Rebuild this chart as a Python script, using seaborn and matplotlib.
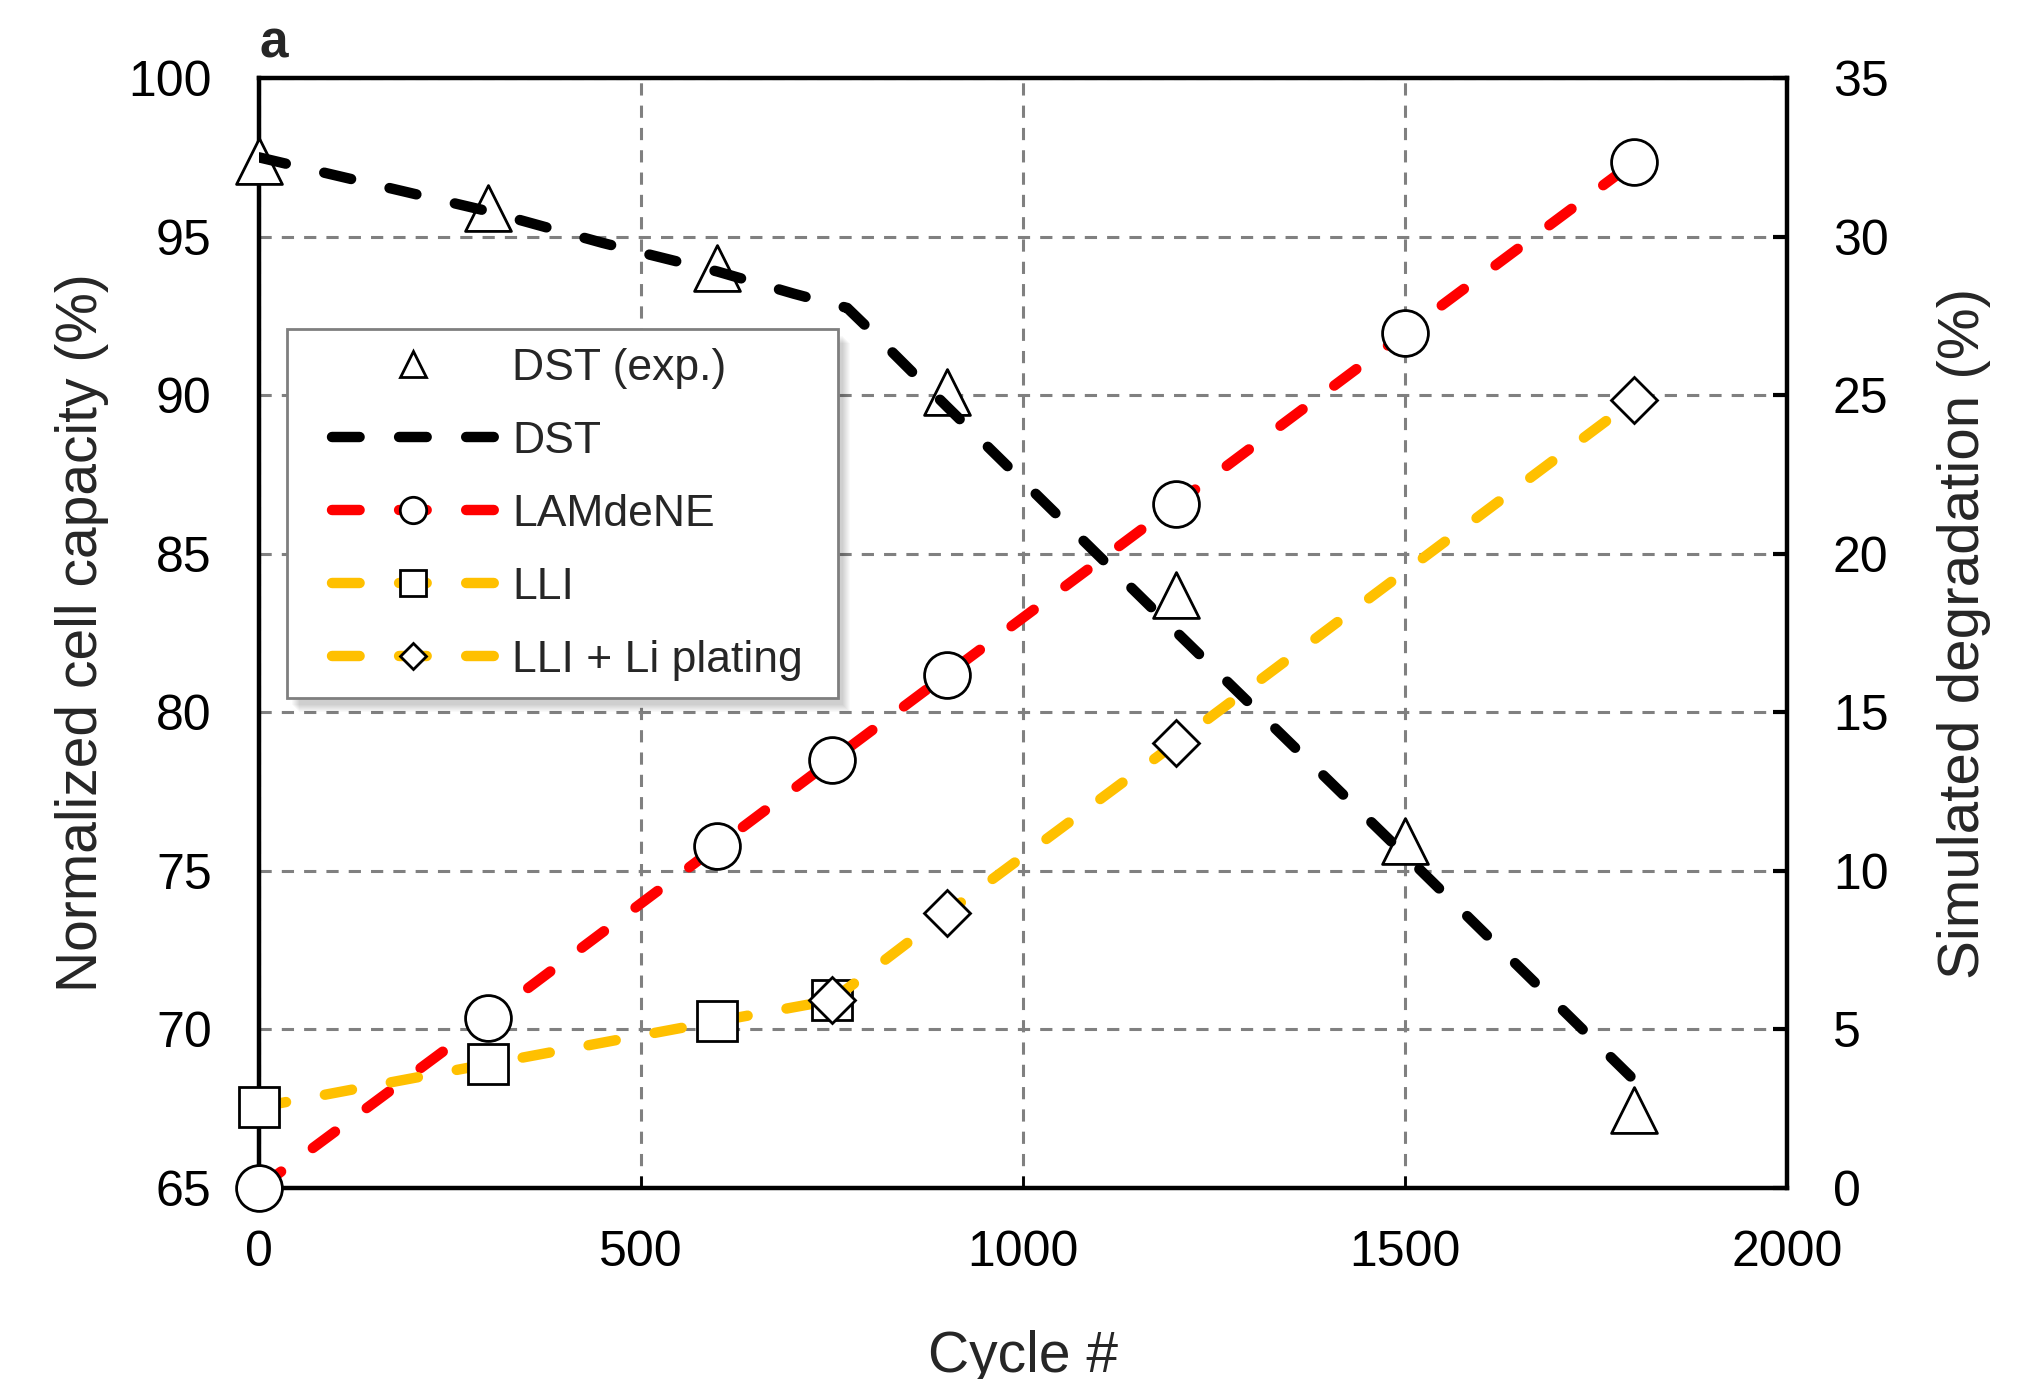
"""Battery degradation: DST capacity fade vs simulated degradation modes."""

import matplotlib

matplotlib.use("Agg")
import matplotlib.pyplot as plt
import seaborn as sns
from matplotlib.lines import Line2D
from matplotlib.patches import Rectangle

# ---- data -----------------------------------------------------------------
exp_cycles = [0, 300, 600, 900, 1200, 1500, 1800]
dst_exp = [97.4, 95.9, 94.0, 90.1, 83.7, 75.95, 67.45]

dst_cycles = [0, 150, 300, 450, 600, 700, 770, 800, 900, 1200, 1500, 1800]
dst_model = [97.5, 96.65, 95.8, 94.8, 93.9, 93.2, 92.75, 92.05, 89.65, 82.55, 75.5, 68.4]

lam_cycles = [0, 300, 600, 750, 900, 1200, 1500, 1800]
lam_dene = [0.0, 5.36, 10.78, 13.49, 16.19, 21.57, 26.97, 32.35]

lli_cycles = [0, 300, 600, 750]
lli = [2.55, 3.91, 5.26, 5.92]

plating_cycles = [750, 900, 1200, 1800]
lli_plating = [5.92, 8.67, 14.03, 24.85]

x_ticks = [0, 500, 1000, 1500, 2000]
left_ticks = [65, 70, 75, 80, 85, 90, 95, 100]
right_ticks = [0, 5, 10, 15, 20, 25, 30, 35]

# ---- style ----------------------------------------------------------------
sns.set_theme(style="white")
plt.rcParams["font.family"] = ["Liberation Sans", "DejaVu Sans"]

RED = "#FF0000"
YELLOW = "#FFC000"
GRID = "#808080"
LW = 7.5
DASH = (0, (2.65, 3.79))

fig = plt.figure(figsize=(20.34, 13.79), dpi=100)
ax = fig.add_axes([0.1273, 0.1385, 0.7513, 0.8049])
ax2 = ax.twinx()

# experimental points + model line (left axis)
sns.scatterplot(x=exp_cycles, y=dst_exp, ax=ax, marker="^", s=33**2,
                facecolor="white", edgecolor="black", linewidth=2,
                zorder=3, clip_on=False, legend=False)
sns.lineplot(x=dst_cycles, y=dst_model, ax=ax, color="black", linewidth=LW,
             linestyle=DASH, dash_capstyle="round", zorder=4, legend=False)

# simulated degradation modes (right axis)
marker_kw = dict(markerfacecolor="white", markeredgecolor="black",
                 markeredgewidth=2, clip_on=False, dash_capstyle="round",
                 linewidth=LW, linestyle=DASH, legend=False)
sns.lineplot(x=lam_cycles, y=lam_dene, ax=ax2, color=RED, marker="o",
             markersize=33, zorder=3, **marker_kw)
sns.lineplot(x=lli_cycles, y=lli, ax=ax2, color=YELLOW, marker="s",
             markersize=29, zorder=4, **marker_kw)
sns.lineplot(x=plating_cycles, y=lli_plating, ax=ax2, color=YELLOW, marker="D",
             markersize=23, zorder=5, **marker_kw)

# ---- axes -----------------------------------------------------------------
ax.set_xlim(0, 2000)
ax.set_ylim(65, 100)
ax2.set_ylim(0, 35)
ax.set_xticks(x_ticks)
ax.set_yticks(left_ticks)
ax2.set_yticks(right_ticks)

ax.grid(True, color=GRID, linestyle=(0, (4, 3.3)), linewidth=2.2)
ax.set_axisbelow(True)
ax2.grid(False)

for side in ["left", "right", "top", "bottom"]:
    ax.spines[side].set_visible(True)
    ax.spines[side].set_color("black")
    ax.spines[side].set_linewidth(3.2)
    ax2.spines[side].set_visible(False)

ax.tick_params(axis="x", direction="in", length=9, width=2, pad=30,
               labelsize=36, colors="black", bottom=True)
ax.tick_params(axis="y", length=0, pad=34, labelsize=36, colors="black")
ax2.tick_params(axis="y", direction="in", length=10, width=3, pad=33,
                labelsize=36, colors="black", right=True)

ax.set_xlabel("Cycle #", fontsize=41, labelpad=39)
ax.set_ylabel("Normalized cell capacity (%)", fontsize=41, labelpad=14)
ax2.set_ylabel("Simulated degradation (%)", fontsize=42, labelpad=35,
               rotation=90)

fig.text(0.1278, 0.958, "a", fontsize=37, fontweight="bold", va="baseline",
         family=["Liberation Sans", "DejaVu Sans"])

# ---- legend ---------------------------------------------------------------
x0, x1, y0, y1 = 0.0183, 0.3789, 0.4414, 0.7739
for k in range(1, 9):
    ax2.add_patch(Rectangle((x0 + (4 + k) / 1528, y0 - (6 + k) / 1110),
                            x1 - x0, y1 - y0, transform=ax2.transAxes,
                            facecolor="black", edgecolor="none",
                            alpha=0.025, zorder=4.5, clip_on=False))
ax2.add_patch(Rectangle((x0, y0), x1 - x0, y1 - y0, transform=ax2.transAxes,
                        facecolor="white", edgecolor="#7f7f7f", linewidth=2,
                        zorder=4.8, clip_on=False))

leg_kw = dict(markerfacecolor="white", markeredgecolor="black",
              markeredgewidth=2, dash_capstyle="round", linewidth=LW,
              linestyle=DASH)
handles = [
    Line2D([], [], linestyle="none", marker="^", markersize=19,
           markerfacecolor="white", markeredgecolor="black", markeredgewidth=2),
    Line2D([], [], color="black", dash_capstyle="round", linewidth=LW,
           linestyle=DASH),
    Line2D([], [], color=RED, marker="o", markersize=19, **leg_kw),
    Line2D([], [], color=YELLOW, marker="s", markersize=19, **leg_kw),
    Line2D([], [], color=YELLOW, marker="D", markersize=13.5, **leg_kw),
]
labels = ["DST (exp.)", "DST", "LAMdeNE", "LLI", "LLI + Li plating"]
leg = ax2.legend(handles, labels, loc="upper left",
                 bbox_to_anchor=(0.0478, 0.757), frameon=False, borderpad=0,
                 handlelength=3.64, handletextpad=0.42, labelspacing=0.72,
                 fontsize=32, borderaxespad=0)
leg.set_zorder(5)

fig.savefig("out.png", dpi=100, facecolor="white")
